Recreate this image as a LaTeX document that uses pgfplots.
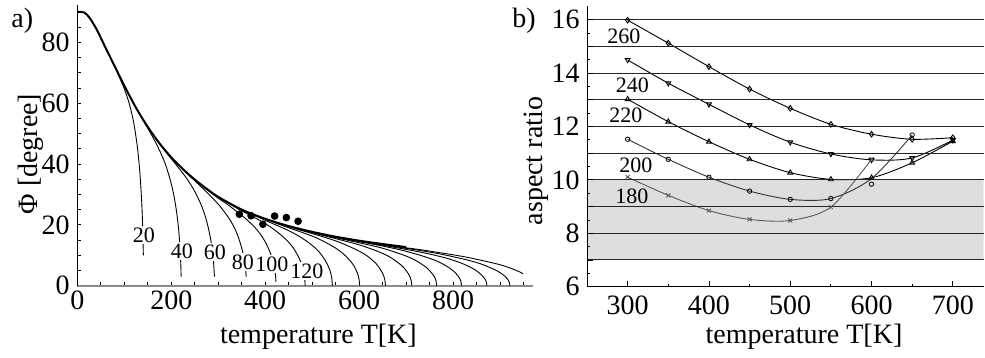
\documentclass[border=0pt]{standalone}
\usepackage{fontspec}
\setmainfont{Liberation Serif}
\usepackage{pgfplots}
\pgfplotsset{compat=1.18}
\tikzset{
  lab/.style={font=\fontsize{11}{12}\selectfont, fill=white, inner sep=0.6pt},
  rlab/.style={font=\fontsize{11}{12}\selectfont, inner sep=0pt},
}
\begin{document}
\begin{tikzpicture}
\path[use as bounding box] (0pt,0pt) rectangle (492.5pt,179pt);
\pgfplotsset{
  myaxis/.style={
    scale only axis, anchor=south west, axis lines*=left,
    tick align=inside,
    /pgf/number format/assume math mode=true,
    tick label style={font=\fontsize{14}{16}\selectfont},
    label style={font=\fontsize{14}{16}\selectfont},
    every tick/.style={black, line width=0.4pt},
  },
  br/.style={black, line width=0.45pt, smooth, tension=0.5},
}
% ---------------- panel a ----------------
\begin{axis}[myaxis,
  at={(38.65pt,36.15pt)}, width=227.85pt, height=140.35pt,
  xmin=0, xmax=970, ymin=0, ymax=92.3,
  xtick={0,200,...,800}, ytick={0,20,...,80},
  minor xtick={50,100,...,950}, minor ytick={5,10,...,90},
  major tick length=2pt, minor tick length=2pt,
  x axis line style={draw=black!45, line width=1.1pt},
  y axis line style={line width=0.5pt},
  xticklabel style={inner sep=2.2pt},
  yticklabel style={inner sep=3.6pt},
  xlabel={temperature T[K]},
  xlabel style={at={([yshift=-28.8pt]axis description cs:0.529,0)}, anchor=base},
  ylabel={Φ [degree]},
  ylabel style={at={([xshift=-19.8pt]axis description cs:0,0.469)}, anchor=base},
]
\addplot[black, line width=1pt, smooth, tension=0.5] coordinates {
(0,90) (10,90) (15,89.8) (20,89.2) (25,88.3) (30,87.2) (40,84.6) (50,81.5)
(60,78.3) (75,73.6) (100,65.8) (125,58.5) (150,52.2) (175,46.8) (200,42.2)
(225,38.3) (250,34.9) (275,31.9) (300,29.2) (350,25.0) (400,22.0) (450,19.6)
(500,17.7) (550,16.1) (600,14.8) (650,13.7) (700,12.7)};
% branch 20
\addplot[br] coordinates {(84.6,70.4) (98.7,65.3) (105.75,62.3) (112.8,58.6) (119.85,53.8) (126.9,46.8) (131.1,40.9) (133.95,35.6) (136.8,28.4) (138.2,23.6) (139.6,16.9) (140.3,12.1) (140.6,10)};
% branch 40
\addplot[br] coordinates {(132.6,56.4) (154.7,50.5) (165.75,47.4) (176.8,43.9) (187.85,39.8) (198.9,34.2) (205.5,29.7) (210,25.7) (214.4,20.5) (216.6,16.9) (218.8,12.1) (219.9,8.6) (220.6,5.5) (221,3)};
% branch 60
\addplot[br] coordinates {(175.2,46.6) (204.4,40.9) (219,38.1) (233.6,35.1) (248.2,31.5) (262.8,26.9) (271.6,23.2) (277.4,20.0) (283.2,15.9) (286.2,13.1) (289.1,9.4) (290.5,6.7) (291.4,4.2) (292,3)};
% branch 80
\addplot[br] coordinates {(216,39.6) (252,34.2) (270,31.6) (288,28.8) (306,25.7) (324,21.9) (334.8,18.9) (342,16.3) (349.2,12.8) (352.8,10.6) (356.4,7.6) (358.2,5.4) (359.5,3)};
% branch 100
\addplot[br] coordinates {(253.8,34.3) (296.1,29.2) (317.25,27.0) (338.4,24.5) (359.55,21.9) (380.7,18.7) (393.4,16.1) (401.85,13.9) (410.3,11.0) (414.5,9.1) (418.8,6.5) (420.9,4.6) (422.2,2.95) (422.7,1.3)};
% branch 120
\addplot[br] coordinates {(291,30.1) (339.5,25.5) (363.75,23.5) (388,21.5) (412.25,19.2) (436.5,16.3) (451,14.1) (460.75,12.2) (470.45,9.6) (475.3,8.0) (480.15,5.7) (482.6,4.1) (484,2.6) (485,0)};
% branch 140
\addplot[br] coordinates {(325.8,26.9) (380.1,22.9) (407.25,21.0) (434.4,19.2) (461.55,17.2) (488.7,14.6) (505,12.6) (515.85,10.9) (526.7,8.6) (532.1,7.1) (537.6,5.1) (540.3,3.6) (541.9,2.3) (543,0)};
% branch 160
\addplot[br] coordinates {(360.6,24.3) (420.7,20.7) (450.75,19.0) (480.8,17.4) (510.85,15.6) (540.9,13.2) (558.9,11.4) (571,9.8) (583,7.8) (589,6.5) (595,4.6) (598,3.3) (599.8,2.1) (601,0)};
% branch 180
\addplot[br] coordinates {(393.6,22.3) (459.2,19.0) (492,17.5) (524.8,16.0) (557.6,14.3) (590.4,12.1) (610.1,10.5) (623.2,9.05) (636.3,7.2) (642.9,5.9) (649.4,4.2) (652.7,3.0) (654.7,1.9) (656,0)};
% branch 200
\addplot[br] coordinates {(427.2,20.6) (498.4,17.5) (534,16.1) (569.6,14.7) (605.2,13.2) (640.8,11.2) (662.2,9.7) (676.4,8.3) (690.6,6.6) (697.8,5.4) (704.9,3.9) (708.4,2.8) (710.6,1.8) (712,0)};
% branch 220
\addplot[br] coordinates {(459,19.2) (535.5,16.3) (573.75,15.0) (612,13.7) (650.25,12.3) (688.5,10.4) (711.45,9.0) (726.75,7.7) (742,6.1) (749.7,5.0) (757.35,3.6) (761.2,2.6) (763.5,1.6) (765,0)};
% branch 240
\addplot[br] coordinates {(490.8,18.0) (572.6,15.3) (613.5,14.1) (654.4,12.9) (695.3,11.5) (736.2,9.7) (760.7,8.4) (777.1,7.2) (793.5,5.7) (801.6,4.7) (809.8,3.35) (813.9,2.4) (816.4,1.5) (818,0)};
% branch 260
\addplot[br] coordinates {(523.2,16.9) (610.4,14.4) (654,13.2) (697.6,12.0) (741.2,10.7) (784.8,9.1) (811,7.8) (828.4,6.7) (845.8,5.3) (854.6,4.3) (863.3,3.1) (867.6,2.2) (870.3,1.4) (872,0)};
% branch 280
\addplot[br] coordinates {(552.6,16.0) (644.7,13.6) (690.75,12.5) (736.8,11.4) (782.85,10.1) (828.9,8.5) (856.5,7.3) (875,6.2) (893.4,4.9) (902.6,4.0) (911.8,2.9) (916.4,2.05) (919.2,1.3) (921,0)};
% branch 300
\addplot[br] coordinates {(582,15.2) (679,12.9) (727.5,11.9) (776,10.75) (824.5,9.5) (873,7.9) (902.1,6.8) (921.5,5.8) (940.9,4.6) (948.7,3.9)};
% measured points
\addplot[only marks, mark=*, mark size=1.7pt, black] coordinates {
(345,23.5) (370,23.0) (395,20.2) (420,22.9) (445,22.4) (470,21.2)};
\node[lab] at (axis cs:141.9,16.7) {20};
\node[lab] at (axis cs:222.8,11.4) {40};
\node[lab] at (axis cs:293,11.1) {60};
\node[lab] at (axis cs:352.6,7.8) {80};
\node[lab] at (axis cs:414.3,7.1) {100};
\node[lab] at (axis cs:488.7,4.8) {120};
\end{axis}
\node[anchor=base west, font=\fontsize{14}{16}\selectfont, inner sep=0pt] at (5.5pt,165pt) {a)};
% ---------------- panel b ----------------
\begin{axis}[myaxis, axis on top,
  at={(293.5pt,35.65pt)}, width=198.35pt, height=140.2pt,
  xmin=250, xmax=738, ymin=6, ymax=16.5,
  xtick={300,400,...,700}, minor xtick={350,450,...,650},
  ytick={6,7,...,16}, yticklabels={6,,8,,10,,12,,14,,16},
  minor ytick={6.5,7.5,...,15.5},
  major tick length=3pt, minor tick length=1.5pt,
  ymajorgrids, major grid style={black!85, line width=0.5pt},
  axis line style={line width=0.5pt},
  xticklabel style={inner sep=4.2pt},
  yticklabel style={inner sep=3.5pt},
  xlabel={temperature T[K]},
  xlabel style={at={([yshift=-28.3pt]axis description cs:0.547,0)}, anchor=base},
  ylabel={aspect ratio},
  ylabel style={at={([xshift=-22.5pt]axis description cs:0,0.448)}, anchor=base},
]
\addplot[draw=none, fill=black!13] coordinates {(250,7) (738,7) (738,10) (250,10)} -- cycle;
% 260
\addplot[black, line width=0.45pt, smooth, tension=0.5, mark=diamond, mark size=1.4pt, mark options={solid, fill=white}] coordinates {
(300,15.98) (350,15.12) (400,14.24) (450,13.40) (500,12.68) (550,12.08) (600,11.71) (650,11.52) (700,11.58)};
% 240
\addplot[black, line width=0.45pt, smooth, tension=0.5, mark=triangle, mark size=1.4pt, mark options={solid, fill=white, rotate=180}] coordinates {
(300,14.49) (350,13.62) (400,12.83) (450,12.06) (500,11.41) (550,10.97) (600,10.75) (650,10.82) (700,11.49)};
% 220
\addplot[black, line width=0.45pt, smooth, tension=0.5, mark=triangle, mark size=1.4pt, mark options={solid, fill=white}] coordinates {
(300,13.02) (350,12.18) (400,11.43) (450,10.77) (500,10.27) (550,10.02) (600,10.08) (650,10.64) (700,11.45)};
% 200 line and points
\addplot[black!80, line width=0.45pt, smooth, tension=0.5] coordinates {
(300,11.52) (350,10.77) (400,10.10) (450,9.58) (500,9.27) (550,9.30) (600,10.05) (650,11.68)};
\addplot[only marks, black, mark=o, mark size=1.1pt, mark options={fill=white}] coordinates {
(300,11.52) (350,10.77) (400,10.10) (450,9.58) (500,9.27) (550,9.30) (600,9.84) (650,11.68)};
% 180
\addplot[black!65, line width=0.45pt, smooth, tension=0.5, mark=x, mark size=1.4pt] coordinates {
(300,10.10) (350,9.42) (400,8.85) (450,8.52) (500,8.48) (550,8.98) (600,10.77)};
\node[rlab] at (axis cs:295.4,15.36) {260};
\node[rlab] at (axis cs:305.9,13.55) {240};
\node[rlab] at (axis cs:297.9,12.40) {220};
\node[rlab] at (axis cs:310.2,10.56) {200};
\node[rlab] at (axis cs:305.3,9.39) {180};
\end{axis}
\node[anchor=base west, font=\fontsize{14}{16}\selectfont, inner sep=0pt] at (256pt,165pt) {b)};
\end{tikzpicture}
\end{document}
